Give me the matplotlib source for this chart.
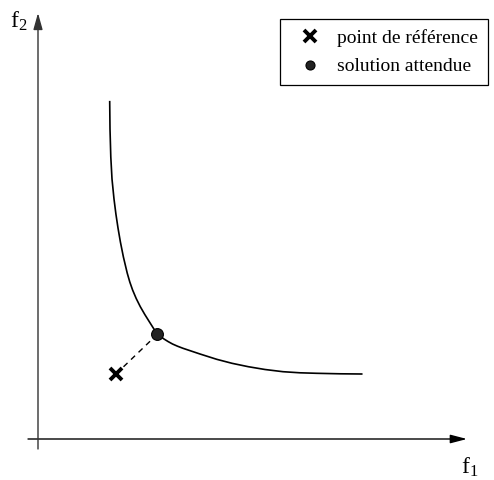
import numpy as np
import matplotlib
matplotlib.use('Agg')
import matplotlib.pyplot as plt
from matplotlib.lines import Line2D

plt.rcParams['font.family'] = ['Liberation Serif', 'DejaVu Serif']
plt.rcParams['mathtext.fontset'] = 'custom'
plt.rcParams['mathtext.rm'] = 'Liberation Serif'
plt.rcParams['mathtext.it'] = 'Liberation Serif:italic'

# front de Pareto (unites arbitraires)
front_f1 = [71.7, 72.0, 72.8, 74.0, 76.0, 77.9, 80.0, 82.4, 85.4, 89.2,
            91.8, 94.6, 98.2, 102.3, 106.8, 111.5, 115.6, 119.3,
            122.5, 126.0, 130.0, 134.5, 139.5, 145.0, 162.0, 178.7, 194.0,
            210.3, 227.0, 245.0, 262.0, 278.7, 302.0, 323.7]
front_f2 = [337.3, 310.0, 282.0, 260.0, 240.0, 225.0, 211.0, 197.0, 182.0, 166.0,
            157.0, 149.0, 140.5, 132.3, 124.5, 117.0, 110.5, 105.0,
            102.5, 100.0, 97.5, 95.0, 92.8, 90.7, 85.0, 79.7, 75.7,
            72.3, 69.5, 67.3, 66.2, 65.7, 65.2, 65.0]

ref_point = (78.0, 65.0)
solution = (119.3, 104.7)

labels = ['point de référence', 'solution attendue']

fig = plt.figure(figsize=(4.94, 4.8), dpi=100)
ax = fig.add_axes([0, 0, 1, 1])
ax.set_xlim(-38, 456)
ax.set_ylim(-41, 439)
ax.axis('off')

# axes avec fleches
ax.annotate('', xy=(429, 0), xytext=(-10, 0),
            arrowprops=dict(arrowstyle='-|>,head_length=0.5,head_width=0.13',
                            mutation_scale=20, color='black', lw=1.0,
                            shrinkA=0, shrinkB=0))
ax.annotate('', xy=(0, 426), xytext=(0, -10),
            arrowprops=dict(arrowstyle='-|>,head_length=0.5,head_width=0.14',
                            mutation_scale=20, color='0.2', lw=1.0,
                            shrinkA=0, shrinkB=0))

ax.text(-19, 418, r'$\mathrm{f}_2$', fontsize=17, ha='center', va='center')
ax.text(432, -28, r'$\mathrm{f}_1$', fontsize=17, ha='center', va='center')

# courbe
ax.plot(front_f1, front_f2, color='black', lw=1.2, solid_joinstyle='round')

# segment pointille
ax.plot([ref_point[0], solution[0]], [ref_point[1], solution[1]],
        color='black', lw=1.0, ls=(0, (4, 3.5)))

ax.plot(*ref_point, marker='x', ms=8.5, mew=2.8, color='black',
        ls='none', zorder=5)
ax.plot(*solution, marker='o', ms=8.5, mfc='#222222', mec='black',
        mew=0.8, ls='none', zorder=5)

h1 = Line2D([], [], marker='x', ms=8, mew=2.8, color='black', ls='none')
h2 = Line2D([], [], marker='o', ms=6.5, mfc='#222222', mec='black',
            mew=0.8, ls='none')

leg = ax.legend(handles=[h1, h2], labels=labels, loc='upper right',
                bbox_to_anchor=(488 / 494, 1 - 19 / 480),
                bbox_transform=fig.transFigure, borderaxespad=0,
                fontsize=14, frameon=True, fancybox=False, shadow=False,
                framealpha=1, edgecolor='black', borderpad=0.5,
                handlelength=2.1, handletextpad=0.35, labelspacing=0.58)
leg.get_frame().set_linewidth(0.9)

fig.savefig('out.png', dpi=100)
